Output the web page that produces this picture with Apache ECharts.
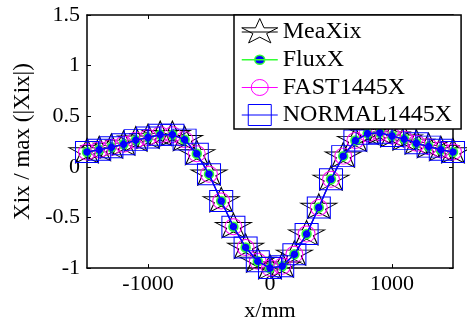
<!DOCTYPE html>
<html><head><meta charset="utf-8">
<script src="https://cdn.jsdelivr.net/npm/echarts@6/dist/echarts.min.js"></script>
<style>html,body{margin:0;padding:0;background:#fff}#c{width:467px;height:327px}</style>
</head><body><div id="c"></div>
<script>
// ---- data ----
const xValues = [-1500,-1400,-1300,-1200,-1100,-1000,-900,-800,-700,-600,-500,-400,-300,-200,-100,0,100,200,300,400,500,600,700,800,900,1000,1100,1200,1300,1400,1500];
const meaXix = [0.147,0.169,0.193,0.223,0.264,0.290,0.318,0.318,0.269,0.129,-0.072,-0.337,-0.591,-0.796,-0.933,-1.000,-0.981,-0.864,-0.664,-0.401,-0.123,0.106,0.260,0.328,0.337,0.305,0.274,0.233,0.200,0.169,0.147];
const fluxX = [0.147,0.169,0.193,0.223,0.264,0.290,0.318,0.318,0.269,0.129,-0.072,-0.337,-0.591,-0.796,-0.933,-1.000,-0.981,-0.864,-0.664,-0.401,-0.123,0.106,0.260,0.328,0.337,0.305,0.274,0.233,0.200,0.169,0.147];
const fast1445X = [0.147,0.169,0.193,0.223,0.264,0.290,0.318,0.318,0.269,0.129,-0.072,-0.337,-0.591,-0.796,-0.933,-1.000,-0.981,-0.864,-0.664,-0.401,-0.123,0.106,0.260,0.328,0.337,0.305,0.274,0.233,0.200,0.169,0.147];
const normal1445X = [0.147,0.169,0.193,0.223,0.264,0.290,0.318,0.318,0.269,0.129,-0.072,-0.337,-0.591,-0.796,-0.933,-1.000,-0.981,-0.864,-0.664,-0.401,-0.123,0.106,0.260,0.328,0.337,0.305,0.274,0.233,0.200,0.169,0.147];
const seriesNames = ['MeaXix','FluxX','FAST1445X','NORMAL1445X'];
const xTickValues = [-1000, 0, 1000];
const yTickValues = [-1, -0.5, 0, 0.5, 1, 1.5];
const xAxisName = 'x/mm';
const yAxisName = 'Xix / max (|Xix|)';

// ---- styling helpers ----
const FONT = "'Liberation Serif','Times New Roman',serif";
const starPts = [[0,-100],[22.45,-30.9],[95.1,-30.9],[36.33,11.8],[58.78,80.9],[0,38.2],[-58.78,80.9],[-36.33,11.8],[-95.1,-30.9],[-22.45,-30.9]];
function starPath(cx, cy, sx, sy) {
  return starPts.map((p,i)=>(i?'L':'M')+(cx+p[0]*sx).toFixed(2)+','+(cy+p[1]*sy).toFixed(2)).join('')+'Z';
}
const starSymbol = 'path://' + starPath(0,0,1,1) + 'M0,100';
// legend icons drawn in a 36x27 box: line + marker
const IW = 36, IH = 27, CX = 18, CY = 13.5;
const lineP = 'M0,' + CY + 'L' + IW + ',' + CY;
const box = 'M' + CX + ',0M' + CX + ',' + IH;
function ell(rx, ry) {
  return 'M' + (CX-rx) + ',' + CY + 'A' + rx + ',' + ry + ',0,1,0,' + (CX+rx) + ',' + CY + 'A' + rx + ',' + ry + ',0,1,0,' + (CX-rx) + ',' + CY + 'Z';
}
function rectP(w, h) {
  const x0 = CX - w/2, y0 = CY - h/2;
  return 'M' + x0 + ',' + y0 + 'L' + (x0+w) + ',' + y0 + 'L' + (x0+w) + ',' + (y0+h) + 'L' + x0 + ',' + (y0+h) + 'Z';
}
const TR = 'rgba(0,0,0,0)';
const GREEN = '#33ff33', MAG = '#ff00ff', BLUE = '#0000ff';

const legendIcons = [
  {icon:'path://' + box + lineP + starPath(CX, CY, 18/95.1, 13.5/100), itemStyle:{color:TR, borderColor:'#000', borderWidth:1}},
  {icon:'path://' + box + lineP + ell(5, 4.6), itemStyle:{color:BLUE, borderColor:GREEN, borderWidth:1.5}},
  {icon:'path://' + box + lineP + ell(8.5, 8), itemStyle:{color:TR, borderColor:MAG, borderWidth:1}},
  {icon:'path://' + box + lineP + rectP(23, 21), itemStyle:{color:TR, borderColor:BLUE, borderWidth:1}}
];

function pairs(ys) { return xValues.map((x,i)=>[x, ys[i]]); }

const axisLineStyle = {color:'#000', width:1.5};
const labelStyle = {fontSize:22, color:'#000', fontFamily:FONT};

const chart = echarts.init(document.getElementById('c'), null, {renderer:'canvas'});
chart.setOption({
  animation:false,
  backgroundColor:'#fff',
  grid:{left:87, right:14, top:15, bottom:49, containLabel:false},
  legend:{
    orient:'vertical', left:234, top:15, z:50,
    padding:[3,9,0,7], itemGap:-0.5, itemWidth:IW, itemHeight:IH,
    backgroundColor:'#fff', borderColor:'#000', borderWidth:1.5, borderRadius:0,
    textStyle:{fontSize:24, color:'#000', fontFamily:FONT},
    selectedMode:false,
    data: seriesNames.map((n,i)=>Object.assign({name:n}, legendIcons[i]))
  },
  xAxis:[
    {type:'value', position:'bottom', min:-1500, max:1500, interval:500,
     axisLine:{onZero:false, lineStyle:axisLineStyle},
     axisTick:{inside:true, length:4, customValues:xTickValues, lineStyle:{color:'#000', width:1}},
     axisLabel:Object.assign({customValues:xTickValues, margin:5, formatter:v=>String(v)}, labelStyle),
     splitLine:{show:false},
     name:xAxisName, nameLocation:'middle', nameGap:29, nameTextStyle:{fontSize:22, color:'#000', fontFamily:FONT}},
    {type:'value', position:'top', min:-1500, max:1500, interval:500,
     axisLine:{onZero:false, lineStyle:axisLineStyle},
     axisTick:{inside:true, length:4, customValues:xTickValues, lineStyle:{color:'#000', width:1}},
     axisLabel:{show:false}, splitLine:{show:false}}
  ],
  yAxis:[
    {type:'value', position:'left', min:-1, max:1.5, interval:0.5,
     axisLine:{onZero:false, lineStyle:axisLineStyle},
     axisTick:{inside:true, length:4, customValues:yTickValues, lineStyle:{color:'#000', width:1}},
     axisLabel:Object.assign({customValues:yTickValues, margin:7, formatter:v=>String(v)}, labelStyle),
     splitLine:{show:false},
     name:yAxisName, nameLocation:'middle', nameGap:44, nameRotate:90, nameTextStyle:{fontSize:23, color:'#000', fontFamily:FONT}},
    {type:'value', position:'right', min:-1, max:1.5, interval:0.5,
     axisLine:{onZero:false, lineStyle:axisLineStyle},
     axisTick:{inside:true, length:4, customValues:yTickValues, lineStyle:{color:'#000', width:1}},
     axisLabel:{show:false}, splitLine:{show:false}}
  ],
  series:[
    {name:seriesNames[0], type:'line', data:pairs(meaXix), clip:false, z:2,
     symbol:starSymbol, symbolSize:[36,27], symbolKeepAspect:false,
     itemStyle:{color:TR, borderColor:'#000', borderWidth:1},
     lineStyle:{color:'#000', width:1}, emphasis:{disabled:true}},
    {name:seriesNames[1], type:'line', data:pairs(fluxX), clip:false, z:3,
     symbol:'circle', symbolSize:9,
     itemStyle:{color:BLUE, borderColor:GREEN, borderWidth:1.5},
     lineStyle:{color:GREEN, width:1}, emphasis:{disabled:true}},
    {name:seriesNames[2], type:'line', data:pairs(fast1445X), clip:false, z:4,
     symbol:'circle', symbolSize:[17,16],
     itemStyle:{color:TR, borderColor:MAG, borderWidth:1},
     lineStyle:{color:MAG, width:1}, emphasis:{disabled:true}},
    {name:seriesNames[3], type:'line', data:pairs(normal1445X), clip:false, z:5,
     symbol:'rect', symbolSize:[23,21],
     itemStyle:{color:TR, borderColor:BLUE, borderWidth:1},
     lineStyle:{color:BLUE, width:1.5}, emphasis:{disabled:true}}
  ]
});
</script>
</body></html>
